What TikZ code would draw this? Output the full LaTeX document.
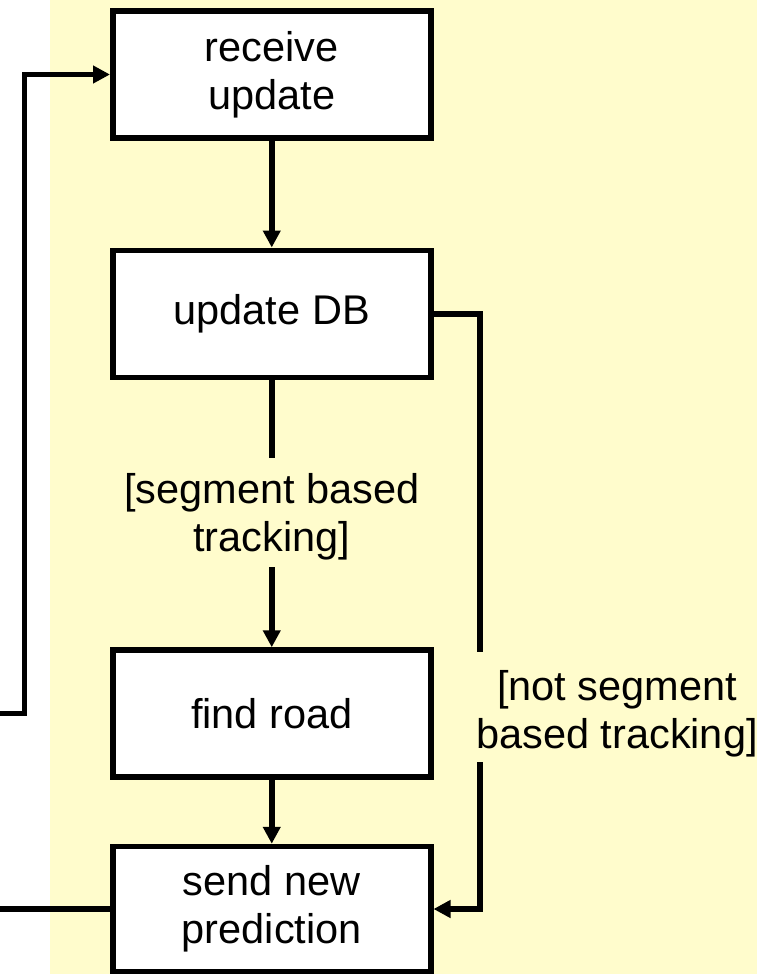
\documentclass[tikz,border=0pt]{standalone}
\usepackage{fontspec}
\setmainfont{Liberation Sans}
\usetikzlibrary{arrows.meta}
\newcommand\flowfont{\fontsize{41.5}{48}\selectfont}

\begin{document}
\begin{tikzpicture}[x=1pt,y=-1pt,
  flow/.style={line width=5.5pt},
  box/.style={draw, line width=5.5pt, fill=white, minimum width=318pt,
    minimum height=127pt, align=center, inner sep=0pt, font=\flowfont},
  guard/.style={align=center, inner sep=0pt, font=\flowfont},
  >={Triangle[length=17pt,width=17pt]}]

  % canvas and swimlane background
  \useasboundingbox (0,0) rectangle (757,974);
  \fill[white] (0,0) rectangle (757,974);
  \fill[yellow!20] (50,0) rectangle (757,974);

  % activities
  \node[box] (recv) at (271.75,74.5) {receive\\update};
  \node[box] (udb)  at (271.75,313.75) {update DB};
  \node[box] (fr)   at (271.75,713.5) {find road};
  \node[box, minimum height=125pt] (send) at (271.75,909) {send new\\prediction};

  % guards
  \node[guard] (g1) at (271.75,517) {[segment based\\tracking]};
  \node[guard] (g2) at (617,714) {[not segment\\based tracking]};

  % helper points for the broken and looping connectors
  \coordinate (g1top) at (271.75,458);
  \coordinate (g1bot) at (271.75,567);
  \coordinate (g2top) at (480,652);
  \coordinate (g2bot) at (480,762);
  \coordinate (edgeA) at (0,909);
  \coordinate (edgeB) at (0,713.5);
  \coordinate (lc)    at (24.5,713.5);

  % connectors
  \draw[flow,->] (recv) -- (udb);
  \draw[flow] (udb.south) -- (g1top);
  \draw[flow,->] (g1bot) -- (fr.north);
  \draw[flow,->] (fr) -- (send);
  \draw[flow] (udb.east) -| (g2top);
  \draw[flow,->] (g2bot) |- (send.east);
  \draw[flow] (send.west) -- (edgeA);
  \draw[flow,->] (edgeB) -- (lc) |- (recv.west);
\end{tikzpicture}
\end{document}
